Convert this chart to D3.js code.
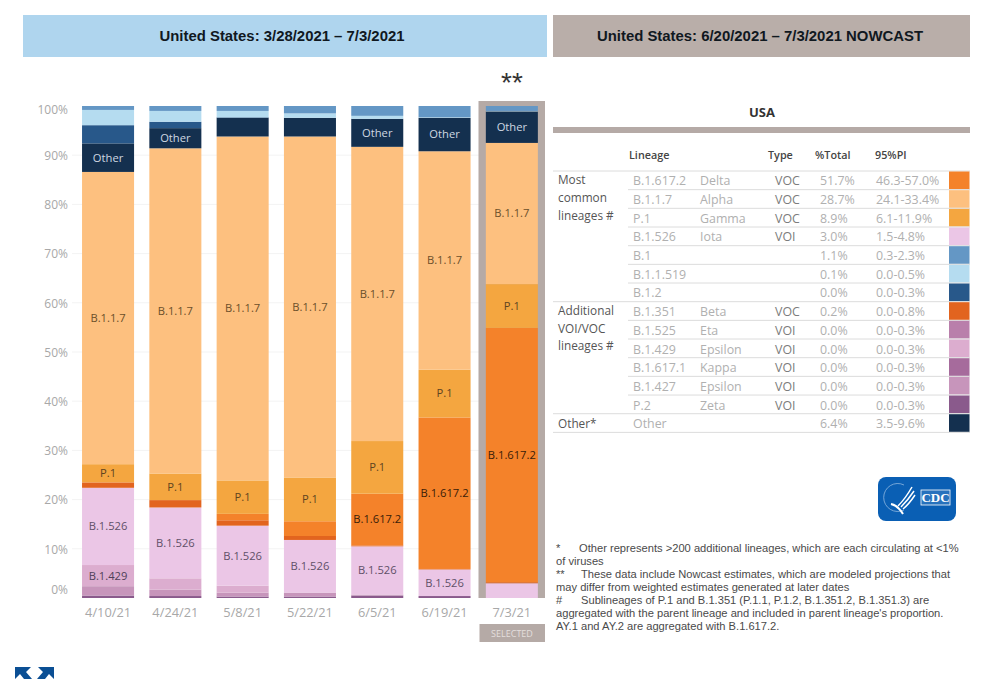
<!DOCTYPE html>
<html lang="en">
<head>
<meta charset="utf-8">
<title>SARS-CoV-2 lineage proportions</title>
<script src="https://cdnjs.cloudflare.com/ajax/libs/d3/7.8.5/d3.min.js"></script>
<style>
body { margin: 0; background: #fff; overflow: hidden; }
svg { display: block; }
.banner-text { font-family: "Liberation Sans", sans-serif; font-weight: bold; font-size: 14.9px; fill: #10181f; text-anchor: middle; }
.y-text { font-family: "Open Sans", sans-serif; font-size: 12px; fill: #a8a8a8; }
.x-text { font-family: "Open Sans", sans-serif; font-size: 12.8px; fill: #a8a8a8; }
.seg-label { font-family: "Open Sans", sans-serif; font-size: 11.2px; text-anchor: middle; }
.cell { font-family: "Open Sans", sans-serif; font-size: 12.4px; fill: #b0b0b0; }
.cell-type { fill: #7c7c7c; }
.head { font-family: "Open Sans", sans-serif; font-size: 10.8px; font-weight: 600; fill: #444; }
.group { font-family: "Open Sans", sans-serif; font-size: 11.8px; fill: #555; }
.note { font-family: "Liberation Sans", sans-serif; font-size: 11.15px; fill: #4a4a4a; }
</style>
</head>
<body>
<script type="text/javascript">

const w = 983;
const h = 679;

const dates = ["4/10/21", "4/24/21", "5/8/21", "5/22/21", "6/5/21", "6/19/21", "7/3/21"];

// stacking order, bottom to top
const stackOrder = ["P.2", "B.1.427", "B.1.429", "B.1.526", "B.1.351", "B.1.617.2", "P.1", "B.1.1.7", "Other", "B.1.2", "B.1.1.519", "B.1"];

// one value per date
const p2 =      [0.5, 0.4, 0.3, 0.3, 0.5, 0.4, 0.0];
const b1427 =   [1.9, 1.3, 0.8, 0.8, 0.2, 0.0, 0.0];
const b1429 =   [4.3, 2.3, 1.4, 0.0, 0.0, 0.0, 0.0];
const b1526 =   [15.7, 14.4, 12.2, 10.7, 9.8, 5.4, 3.0];
const b1351 =   [1.1, 1.5, 1.1, 0.8, 0.2, 0.1, 0.2];
const b16172 =  [0.0, 0.0, 1.3, 3.0, 10.5, 30.8, 51.7];
const p1 =      [3.7, 5.4, 6.8, 8.9, 10.7, 9.7, 8.9];
const b117 =    [59.4, 66.1, 69.9, 69.3, 59.8, 44.4, 28.7];
const other =   [5.8, 4.1, 3.8, 3.8, 5.7, 6.8, 6.4];
const b12 =     [3.7, 1.3, 0.1, 0.0, 0.0, 0.0, 0.0];
const b11519 =  [3.1, 2.2, 1.3, 0.9, 0.6, 0.1, 0.1];
const b1 =      [0.8, 1.0, 1.1, 1.5, 2.0, 2.4, 1.1];

const seriesValues = {
   "P.2": p2, "B.1.427": b1427, "B.1.429": b1429, "B.1.526": b1526, "B.1.351": b1351, "B.1.617.2": b16172,
   "P.1": p1, "B.1.1.7": b117, "Other": other, "B.1.2": b12, "B.1.1.519": b11519, "B.1": b1
};

const colours = {
   "P.2": "#8a5a8c", "B.1.427": "#c795bb", "B.1.429": "#dcadcf", "B.1.526": "#ebc6e6", "B.1.351": "#e2641f",
   "B.1.617.2": "#f4822a", "P.1": "#f4a640", "B.1.1.7": "#fdc07f", "Other": "#14304f", "B.1.2": "#28588a",
   "B.1.1.519": "#b5dcf0", "B.1": "#6497c5"
};

const labelColours = {
   "Other": "#cfd8e2", "B.1.617.2": "#3a2008", "P.1": "#5e4420", "B.1.1.7": "#6b4f2a",
   "B.1.526": "#5f5068", "B.1.429": "#4f3f58"
};

// which segments carry a name in each bar
const labelled = [
   ["B.1.429", "B.1.526", "P.1", "B.1.1.7", "Other"],
   ["B.1.526", "P.1", "B.1.1.7", "Other"],
   ["B.1.526", "P.1", "B.1.1.7"],
   ["B.1.526", "P.1", "B.1.1.7"],
   ["B.1.526", "B.1.617.2", "P.1", "B.1.1.7", "Other"],
   ["B.1.526", "B.1.617.2", "P.1", "B.1.1.7", "Other"],
   ["B.1.617.2", "P.1", "B.1.1.7", "Other"]
];

const yTicks = [0, 10, 20, 30, 40, 50, 60, 70, 80, 90, 100];

// nowcast table
const tableLineage = ["B.1.617.2", "B.1.1.7", "P.1", "B.1.526", "B.1", "B.1.1.519", "B.1.2", "B.1.351", "B.1.525", "B.1.429", "B.1.617.1", "B.1.427", "P.2", "Other"];
const tableName = ["Delta", "Alpha", "Gamma", "Iota", "", "", "", "Beta", "Eta", "Epsilon", "Kappa", "Epsilon", "Zeta", ""];
const tableType = ["VOC", "VOC", "VOC", "VOI", "", "", "", "VOC", "VOI", "VOI", "VOI", "VOI", "VOI", ""];
const tableTotal = ["51.7%", "28.7%", "8.9%", "3.0%", "1.1%", "0.1%", "0.0%", "0.2%", "0.0%", "0.0%", "0.0%", "0.0%", "0.0%", "6.4%"];
const tablePI = ["46.3-57.0%", "24.1-33.4%", "6.1-11.9%", "1.5-4.8%", "0.3-2.3%", "0.0-0.5%", "0.0-0.3%", "0.0-0.8%", "0.0-0.3%", "0.0-0.3%", "0.0-0.3%", "0.0-0.3%", "0.0-0.3%", "3.5-9.6%"];
const tableSwatch = ["#f4822a", "#fdc07f", "#f4a640", "#ebc6e6", "#6497c5", "#b5dcf0", "#28588a", "#e2641f", "#b97fab", "#dcadcf", "#a66b9c", "#c795bb", "#8a5a8c", "#14304f"];

const notes = [
   ["*", "Other represents >200 additional lineages, which are each circulating at <1%"],
   ["", "of viruses"],
   ["**", "These data include Nowcast estimates, which are modeled projections that"],
   ["", "may differ from weighted estimates generated at later dates"],
   ["#", "Sublineages of P.1 and B.1.351 (P.1.1,  P.1.2, B.1.351.2, B.1.351.3) are"],
   ["", "aggregated with the parent lineage and included in parent lineage's proportion."],
   ["", "AY.1 and AY.2 are aggregated with B.1.617.2."]
];

const svg = d3.select("body").append("svg").attr("width", w).attr("height", h);

// Banners
svg.append("rect").attr("x", 23).attr("y", 15).attr("width", 524).attr("height", 42).attr("fill", "#afd5ee");
svg.append("rect").attr("x", 553).attr("y", 15).attr("width", 417).attr("height", 42).attr("fill", "#b9aea9");
svg.append("text").attr("class", "banner-text").attr("x", 282).attr("y", 40.5).text("United States: 3/28/2021 \u2013 7/3/2021");
svg.append("text").attr("class", "banner-text").attr("x", 760).attr("y", 40.5).text("United States: 6/20/2021 \u2013 7/3/2021 NOWCAST");

// Bars
const xScale = d3.scaleBand()
   .domain(dates)
   .range([74.4, 545.5])
   .paddingInner(0.227)
   .paddingOuter(0.1135);

const yScale = d3.scaleLinear()
   .domain([0, 100])
   .range([598, 106]);

const yAxis = d3.axisLeft(yScale)
   .tickValues(yTicks)
   .tickFormat(d => d + "%")
   .tickSize(0)
   .tickPadding(0);

const xAxis = d3.axisBottom(xScale).tickSize(0).tickPadding(0);

// Gridlines
svg.selectAll(".grid")
   .data(yTicks.slice(1, -1))
   .enter()
   .append("line")
   .attr("x1", 72)
   .attr("x2", 545)
   .attr("y1", d => yScale(d))
   .attr("y2", d => yScale(d))
   .attr("stroke", "#f3f3f3");

// Highlight behind the nowcast bar
svg.append("rect").attr("x", 478.5).attr("y", 101).attr("width", 66.5).attr("height", 497).attr("fill", "#b5aaa6");
svg.append("text")
   .attr("x", 512).attr("y", 92)
   .attr("text-anchor", "middle")
   .style("font-family", "'Liberation Sans', sans-serif")
   .style("font-size", "28px")
   .attr("fill", "#333")
   .text("**");

const stacked = d3.stack()
   .keys(stackOrder)
   .value((d, key) => seriesValues[key][dates.indexOf(d)])(dates);

const layers = svg.selectAll(".layer")
   .data(stacked)
   .enter()
   .append("g")
   .attr("class", "layer")
   .attr("fill", d => colours[d.key]);

layers.selectAll("rect")
   .data(d => d)
   .enter()
   .append("rect")
   .attr("x", d => xScale(d.data))
   .attr("width", xScale.bandwidth())
   .attr("y", d => yScale(Math.min(d[1], 100)))
   .attr("height", d => yScale(d[0]) - yScale(Math.min(d[1], 100)));

// Names inside the segments
stacked.forEach(layer => {
   layer.forEach((d, i) => {
      if (!labelled[i].includes(layer.key)) return;
      svg.append("text")
         .attr("class", "seg-label")
         .attr("x", xScale(d.data) + xScale.bandwidth() / 2)
         .attr("y", yScale((d[0] + d[1]) / 2))
         .attr("dy", "0.35em")
         .attr("fill", labelColours[layer.key])
         .text(layer.key);
   });
});

// Axes
const yG = svg.append("g").attr("transform", "translate(68,0)").call(yAxis);
yG.select(".domain").remove();
yG.selectAll("text").attr("class", "y-text").attr("dy", "0.35em")
   .attr("y", d => d === 0 ? -9 : d === 100 ? 3 : 0);

const xG = svg.append("g").attr("transform", "translate(0,605)").call(xAxis);
xG.select(".domain").remove();
xG.selectAll("text").attr("class", "x-text").attr("y", 0).attr("dy", "0.9em");

// SELECTED badge
svg.append("rect").attr("x", 479.5).attr("y", 624).attr("width", 65.5).attr("height", 18).attr("fill", "#b5aaa6");
svg.append("text")
   .attr("x", 512).attr("y", 636.5)
   .attr("text-anchor", "middle")
   .style("font-family", "'Open Sans', sans-serif")
   .style("font-size", "9px")
   .attr("fill", "#e4dfdd")
   .text("SELECTED");

// Table
const rowTop = 171;
const rowH = 18.67;
const rowY = i => rowTop + i * rowH;

svg.append("text").attr("x", 762).attr("y", 117).attr("text-anchor", "middle")
   .style("font-family", "'Open Sans', sans-serif").style("font-size", "13px").style("font-weight", "700").attr("fill", "#333").text("USA");
svg.append("rect").attr("x", 553).attr("y", 127).attr("width", 417).attr("height", 6).attr("fill", "#b5aaa6");

[["Lineage", 629], ["Type", 768], ["%Total", 815], ["95%PI", 875]].forEach(c => {
   svg.append("text").attr("class", "head").attr("x", c[1]).attr("y", 159).text(c[0]);
});

tableLineage.forEach((lin, i) => {
   const full = i === 0 || i === 7 || i === 13;
   svg.append("line")
      .attr("x1", full ? 553 : 628).attr("x2", 970)
      .attr("y1", rowY(i)).attr("y2", rowY(i))
      .attr("stroke", "#dcdcdc");
   svg.append("rect")
      .attr("x", 949).attr("y", rowY(i) + 0.5)
      .attr("width", 20.5).attr("height", rowH - 1)
      .attr("fill", tableSwatch[i]);
   const ty = rowY(i) + rowH / 2 + 0.8;
   [[lin, 633, "cell"], [tableName[i], 700, "cell"], [tableType[i], 775, "cell cell-type"], [tableTotal[i], 820, "cell"], [tablePI[i], 876, "cell"]].forEach(c => {
      svg.append("text").attr("class", c[2]).attr("x", c[1]).attr("y", ty).attr("dy", "0.35em").text(c[0]);
   });
});
svg.append("line").attr("x1", 553).attr("x2", 970).attr("y1", rowY(14)).attr("y2", rowY(14)).attr("stroke", "#dcdcdc");

[["Most", 180], ["common", 198], ["lineages #", 216], ["Additional", 311], ["VOI/VOC", 329], ["lineages #", 346], ["Other*", 424]].forEach(g => {
   svg.append("text").attr("class", "group").attr("x", 558).attr("y", g[1]).attr("dy", "0.35em").text(g[0]);
});

// CDC logo
const logo = svg.append("g").attr("transform", "translate(878,477)");
logo.append("rect").attr("width", 78).attr("height", 44).attr("rx", 8).attr("fill", "#0a5fb4");
logo.append("path").attr("d", "M26 8 A14 14 0 1 0 26 33").attr("fill", "none").attr("stroke", "#8fb8e0").attr("stroke-width", 0.8);
logo.append("path").attr("d", "M34 10 C30 17 26 23 20 29 M36 14 C32 20 28 25 23 30 M37 18 C33 24 30 28 25 32").attr("fill", "none").attr("stroke", "#fff").attr("stroke-width", 1.5);
logo.append("path").attr("d", "M13 27 C18 28 22 32 25 37").attr("fill", "none").attr("stroke", "#fff").attr("stroke-width", 2);
logo.append("rect").attr("x", 43).attr("y", 13).attr("width", 29).attr("height", 15).attr("fill", "#fff").attr("fill-opacity", 0.12).attr("stroke", "#fff").attr("stroke-width", 0.8);
logo.append("text").attr("x", 57.5).attr("y", 25)
   .attr("text-anchor", "middle")
   .style("font-family", "'Liberation Serif', serif").style("font-size", "13px").style("font-weight", "700")
   .attr("fill", "#fff").text("CDC");

// Footnotes
notes.forEach((n, i) => {
   const y = 552 + i * 13;
   svg.append("text").attr("class", "note").attr("x", 556).attr("y", y).text(n[0]);
   const indent = n[0] === "" ? 556 : n[0] === "*" ? 579 : 581;
   svg.append("text").attr("class", "note").attr("x", indent).attr("y", y).text(n[1]);
});

// Expand icon, cut off by the bottom edge like the source
svg.append("path").attr("d", "M15 667 H31 L26 672 L32 679 H24 L20 674 L15 679 Z").attr("fill", "#0b4f94");
svg.append("path").attr("d", "M54 667 H38 L43 672 L37 679 H45 L49 674 L54 679 Z").attr("fill", "#0b4f94");

</script>
</body>
</html>
